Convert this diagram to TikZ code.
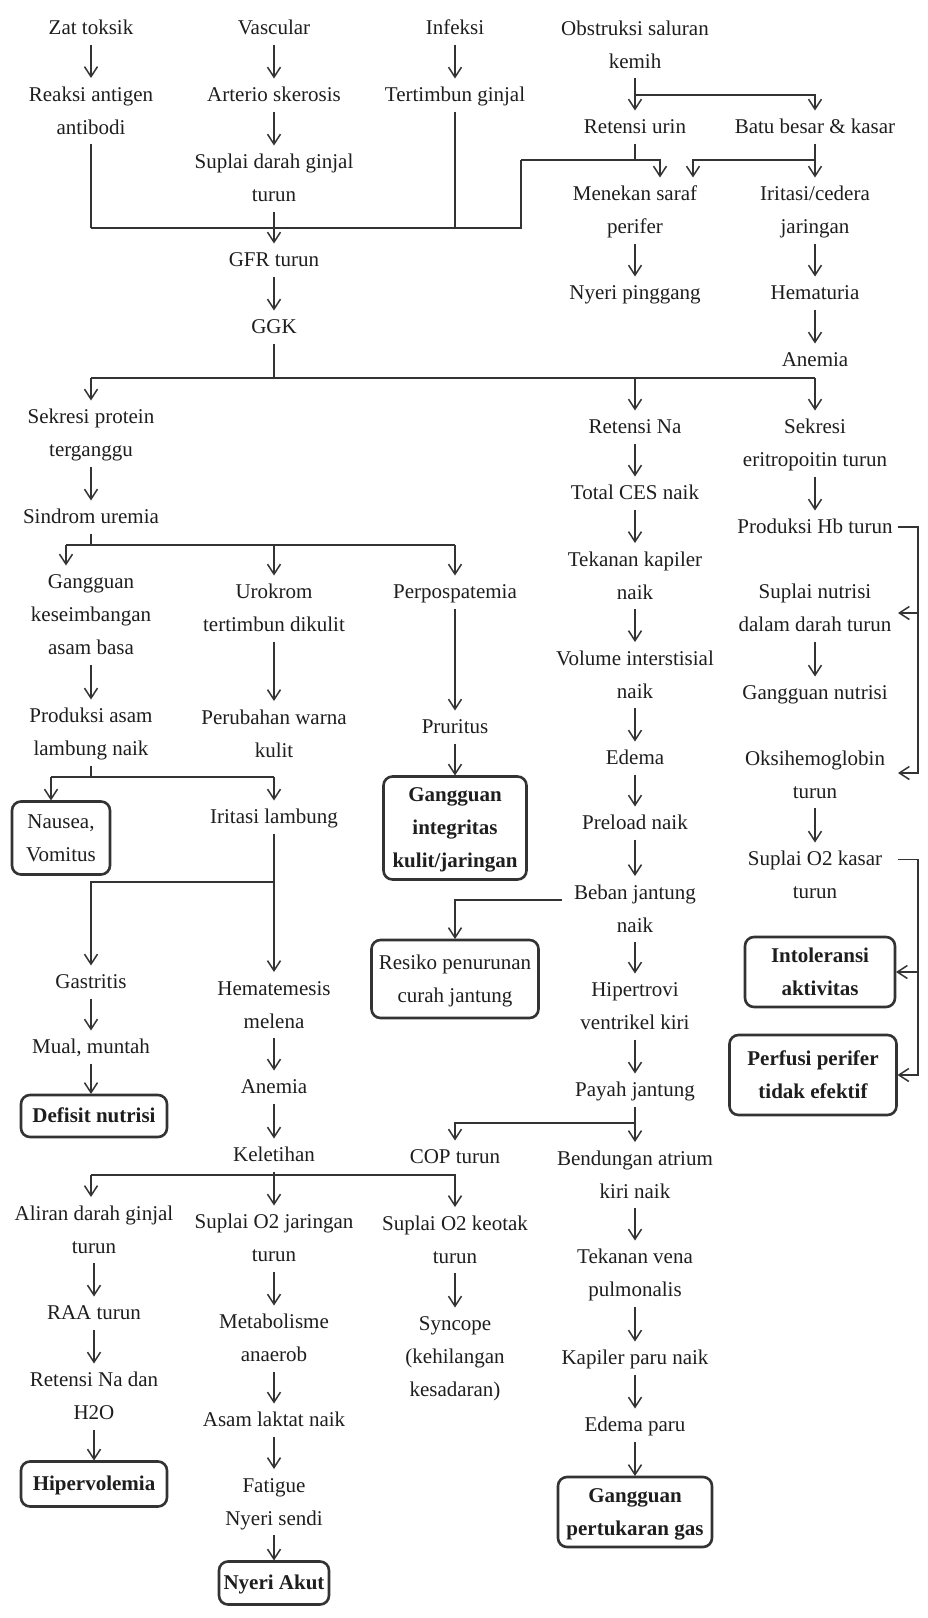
\documentclass[tikz,border=0pt]{standalone}
\usepackage{fontspec}
\setmainfont{Liberation Serif}
\usetikzlibrary{arrows.meta}
\definecolor{ln}{HTML}{333333}
\definecolor{txt}{HTML}{1E1E1E}
\begin{document}
\begin{tikzpicture}[x=1pt,y=-1pt,
  tx/.style={inner sep=0pt, outer sep=0pt, align=center, text=txt,
    font=\fontsize{21}{33}\selectfont,
    execute at begin node=\strut, execute at end node=\strut},
  bxr/.style={tx, draw=ln, line width=2.6pt, rounded corners=9pt, outer sep=1pt},
  bx/.style={bxr, font=\bfseries\fontsize{21}{33}\selectfont},
  cn/.style={draw=ln, line width=1.5pt},
  arr/.style={cn, -{Straight Barb[length=10pt,width=13pt]}}]
\fill[white] (0,0) rectangle (928,1618);
\useasboundingbox (0,0) rectangle (928,1618);
% ---------- nodes ----------
\node[tx] (zat) at (91,28) {Zat toksik};
\node[tx] (vasc) at (274,28) {Vascular};
\node[tx] (inf) at (455,28) {Infeksi};
\node[tx] (obs) at (635,45) {\strut Obstruksi saluran\\kemih};
\node[tx] (rea) at (91,111) {\strut Reaksi antigen\\antibodi};
\node[tx] (art) at (274,95) {Arterio skerosis};
\node[tx] (tert) at (455,95) {Tertimbun ginjal};
\node[tx] (ret) at (635,127) {Retensi urin};
\node[tx] (batu) at (815,127) {Batu besar \& kasar};
\node[tx] (sup) at (274,178.5) {\strut Suplai darah ginjal\\turun};
\node[tx] (men) at (635,210.5) {\strut Menekan saraf\\perifer};
\node[tx] (iri) at (815,210.5) {\strut Iritasi/cedera\\jaringan};
\node[tx] (gfr) at (274,260) {GFR turun};
\node[tx] (nyp) at (635,293) {Nyeri pinggang};
\node[tx] (hem) at (815,293) {Hematuria};
\node[tx] (ggk) at (274,327) {GGK};
\node[tx] (anem1) at (815,360) {Anemia};
\node[tx] (sek) at (91,433.5) {\strut Sekresi protein\\terganggu};
\node[tx] (retna) at (635,427) {Retensi Na};
\node[tx] (eri) at (815,443.5) {\strut Sekresi\\eritropoitin turun};
\node[tx] (ces) at (635,493) {Total CES naik};
\node[tx] (sind) at (91,517) {Sindrom uremia};
\node[tx] (hb) at (815,527) {Produksi Hb turun};
\node[tx] (tek) at (635,576) {\strut Tekanan kapiler\\naik};
\node[tx] (gang) at (91,615) {\strut Gangguan\\keseimbangan\\asam basa};
\node[tx] (uro) at (274,608.5) {\strut Urokrom\\tertimbun dikulit};
\node[tx] (perp) at (455,592) {Perpospatemia};
\node[tx] (supn) at (815,608.5) {\strut Suplai nutrisi\\dalam darah turun};
\node[tx] (vol) at (635,675) {\strut Volume interstisial\\naik};
\node[tx] (gnut) at (815,693) {Gangguan nutrisi};
\node[tx] (prod) at (91,732.5) {\strut Produksi asam\\lambung naik};
\node[tx] (peru) at (274,734) {\strut Perubahan warna\\kulit};
\node[tx] (prur) at (455,727) {Pruritus};
\node[tx] (edema) at (635,758) {Edema};
\node[tx] (oksi) at (815,775) {\strut Oksihemoglobin\\turun};
\node[bxr, minimum width=98pt, minimum height=73pt] (naus) at (61,838) {\strut Nausea,\\Vomitus};
\node[tx] (irl) at (274,817) {Iritasi lambung};
\node[bx, minimum width=143pt, minimum height=103pt] (integ) at (455,828) {\strut Gangguan\\integritas\\kulit/jaringan};
\node[tx] (pre) at (635,823) {Preload naik};
\node[tx] (o2k) at (815,875.5) {\strut Suplai O2 kasar\\turun};
\node[tx] (beb) at (635,909) {\strut Beban jantung\\naik};
\node[tx] (gast) at (91,982) {Gastritis};
\node[tx] (hema) at (274,1005) {\strut Hematemesis\\melena};
\node[bxr, minimum width=167pt, minimum height=78pt] (res) at (455,979) {\strut Resiko penurunan\\curah jantung};
\node[tx] (hip) at (635,1006.5) {\strut Hipertrovi\\ventrikel kiri};
\node[bx, minimum width=150pt, minimum height=70pt] (intol) at (820,972) {\strut Intoleransi\\aktivitas};
\node[tx] (mual) at (91,1047) {Mual, muntah};
\node[tx] (anem2) at (274,1087) {Anemia};
\node[tx] (payah) at (635,1090) {Payah jantung};
\node[bx, minimum width=167pt, minimum height=80pt] (perf) at (813,1075) {\strut Perfusi perifer\\tidak efektif};
\node[bx, minimum width=146pt, minimum height=42pt] (def) at (94,1116) {Defisit nutrisi};
\node[tx] (kel) at (274,1155) {Keletihan};
\node[tx] (cop) at (455,1157) {COP turun};
\node[tx] (bend) at (635,1175) {\strut Bendungan atrium\\kiri naik};
\node[tx] (ali) at (94,1230) {\strut Aliran darah ginjal\\turun};
\node[tx] (sjar) at (274,1238.5) {\strut Suplai O2 jaringan\\turun};
\node[tx] (skeo) at (455,1240) {\strut Suplai O2 keotak\\turun};
\node[tx] (tvena) at (635,1273.5) {\strut Tekanan vena\\pulmonalis};
\node[tx] (raa) at (94,1313) {RAA turun};
\node[tx] (meta) at (274,1338.5) {\strut Metabolisme\\anaerob};
\node[tx] (sync) at (455,1357) {\strut Syncope\\(kehilangan\\kesadaran)};
\node[tx] (kap) at (635,1358) {Kapiler paru naik};
\node[tx] (retna2) at (94,1396.5) {\strut Retensi Na dan\\H2O};
\node[tx] (asam) at (274,1420) {Asam laktat naik};
\node[tx] (edp) at (635,1425) {Edema paru};
\node[bx, minimum width=146pt, minimum height=45pt] (hiper) at (94,1484) {Hipervolemia};
\node[tx] (fat) at (274,1502) {\strut Fatigue\\Nyeri sendi};
\node[bx, minimum width=154pt, minimum height=70pt] (gpg) at (635,1512) {\strut Gangguan\\pertukaran gas};
\node[bx, minimum width=110pt, minimum height=43pt] (nyeri) at (274,1583) {Nyeri Akut};
% ---------- junction coordinates ----------
\coordinate (j1) at (635,95);
\coordinate (ba) at (91,228);
\coordinate (bc) at (455,228);
\coordinate (bk) at (521,228);
\coordinate (k1) at (521,160);
\coordinate (rj) at (635,160);
\coordinate (k2) at (815,160);
\coordinate (b1l) at (91,378);
\coordinate (b1g) at (274,378);
\coordinate (b1d) at (635,378);
\coordinate (b1r) at (815,378);
\coordinate (b2s) at (91,545);
\coordinate (b2l) at (66,545);
\coordinate (b2b) at (274,545);
\coordinate (b2c) at (455,545);
\coordinate (b3s) at (91,777);
\coordinate (b3l) at (51,777);
\coordinate (b3r) at (274,777);
\coordinate (gj) at (274,882);
\coordinate (b4l) at (91,1175);
\coordinate (b4b) at (274,1175);
\coordinate (b4c) at (455,1175);
\coordinate (pj) at (635,1123);
\coordinate (r1b) at (918,773);
\coordinate (r1m) at (918,613);
\coordinate (supa) at (898,613);
\coordinate (oksa) at (898,773);
\coordinate (r2b) at (918,1075);
% ---------- top part ----------
\draw[arr] (zat) -- (rea);
\draw[arr] (vasc) -- (art);
\draw[arr] (art) -- (sup);
\draw[arr] (sup) -- (gfr);
\draw[arr] (gfr) -- (ggk);
\draw[arr] (inf) -- (tert);
\draw[arr] (obs) -- (ret);
\draw[arr] (j1) -| (batu.north);
\draw[cn] (rea) -- (ba);
\draw[cn] (tert) -- (bc);
\draw[cn] (ba) -- (bk) -- (k1);
\draw[arr] (k1) -| ([xshift=25pt]men.north);
\draw[cn] (ret) -- (rj);
\draw[arr] (k2) -| ([xshift=58pt]men.north);
\draw[arr] (batu) -- (iri);
\draw[arr] (men) -- (nyp);
\draw[arr] (iri) -- (hem);
\draw[arr] (hem) -- (anem1);
% ---------- GGK split ----------
\draw[cn] (ggk) -- (b1g);
\draw[cn] (b1l) -- (b1r);
\draw[arr] (b1l) -- (sek);
\draw[arr] (b1d) -- (retna);
\draw[arr] (b1r) -- (eri);
% ---------- left columns ----------
\draw[arr] (sek) -- (sind);
\draw[cn] (sind) -- (b2s);
\draw[cn] (b2l) -- (b2c);
\draw[arr] (b2l) -- (b2l |- gang.north);
\draw[arr] (b2b) -- (uro);
\draw[arr] (b2c) -- (perp);
\draw[arr] (gang) -- (prod);
\draw[arr] (uro) -- (peru);
\draw[arr] (perp) -- (prur);
\draw[arr] (prur) -- (integ);
\draw[cn] (prod) -- (b3s);
\draw[cn] (b3l) -- (b3r);
\draw[arr] (b3l) -- (b3l |- naus.north);
\draw[arr] (b3r) -- (irl);
\draw[arr] (irl) -- (hema);
\draw[arr] (gj) -| (gast.north);
\draw[arr] (gast) -- (mual);
\draw[arr] (mual) -- (mual |- def.north);
\draw[arr] (hema) -- (anem2);
\draw[arr] (anem2) -- (kel);
\draw[cn] (kel) -- (b4b);
\draw[cn] (cop) -- (b4c);
\draw[cn] (b4l) -- (b4c);
\draw[arr] (b4l) -- (b4l |- ali.north);
\draw[arr] (b4b) -- (sjar);
\draw[arr] (b4c) -- (skeo);
\draw[arr] (ali) -- (raa);
\draw[arr] (raa) -- (retna2);
\draw[arr] (retna2) -- (hiper);
\draw[arr] (sjar) -- (meta);
\draw[arr] (meta) -- (asam);
\draw[arr] (asam) -- (fat);
\draw[arr] (fat) -- (nyeri);
\draw[arr] (skeo) -- (sync);
% ---------- column D ----------
\draw[arr] (retna) -- (ces);
\draw[arr] (ces) -- (tek);
\draw[arr] (tek) -- (vol);
\draw[arr] (vol) -- (edema);
\draw[arr] (edema) -- (pre);
\draw[arr] (pre) -- (beb);
\draw[arr] (beb) -- (hip);
\draw[arr] (hip) -- (payah);
\draw[arr] (payah) -- (bend);
\draw[arr] ([xshift=-12pt,yshift=9pt]beb.west) -| (res.north);
\draw[arr] (pj) -| (cop.north);
\draw[arr] (bend) -- (tvena);
\draw[arr] (tvena) -- (kap);
\draw[arr] (kap) -- (edp);
\draw[arr] (edp) -- (gpg);
% ---------- column E ----------
\draw[arr] (eri) -- (hb);
\draw[arr] ([xshift=5pt]hb.east) -| (r1b) -- (oksa);
\draw[arr] (r1m) -- (supa);
\draw[arr] (supn) -- (gnut);
\draw[arr] (oksi) -- (o2k);
\draw[arr] ([xshift=16pt,yshift=16pt]o2k.east) -| (r2b) -- (perf.east);
\draw[arr] (intol.east -| r2b) -- (intol.east);
\end{tikzpicture}
\end{document}
